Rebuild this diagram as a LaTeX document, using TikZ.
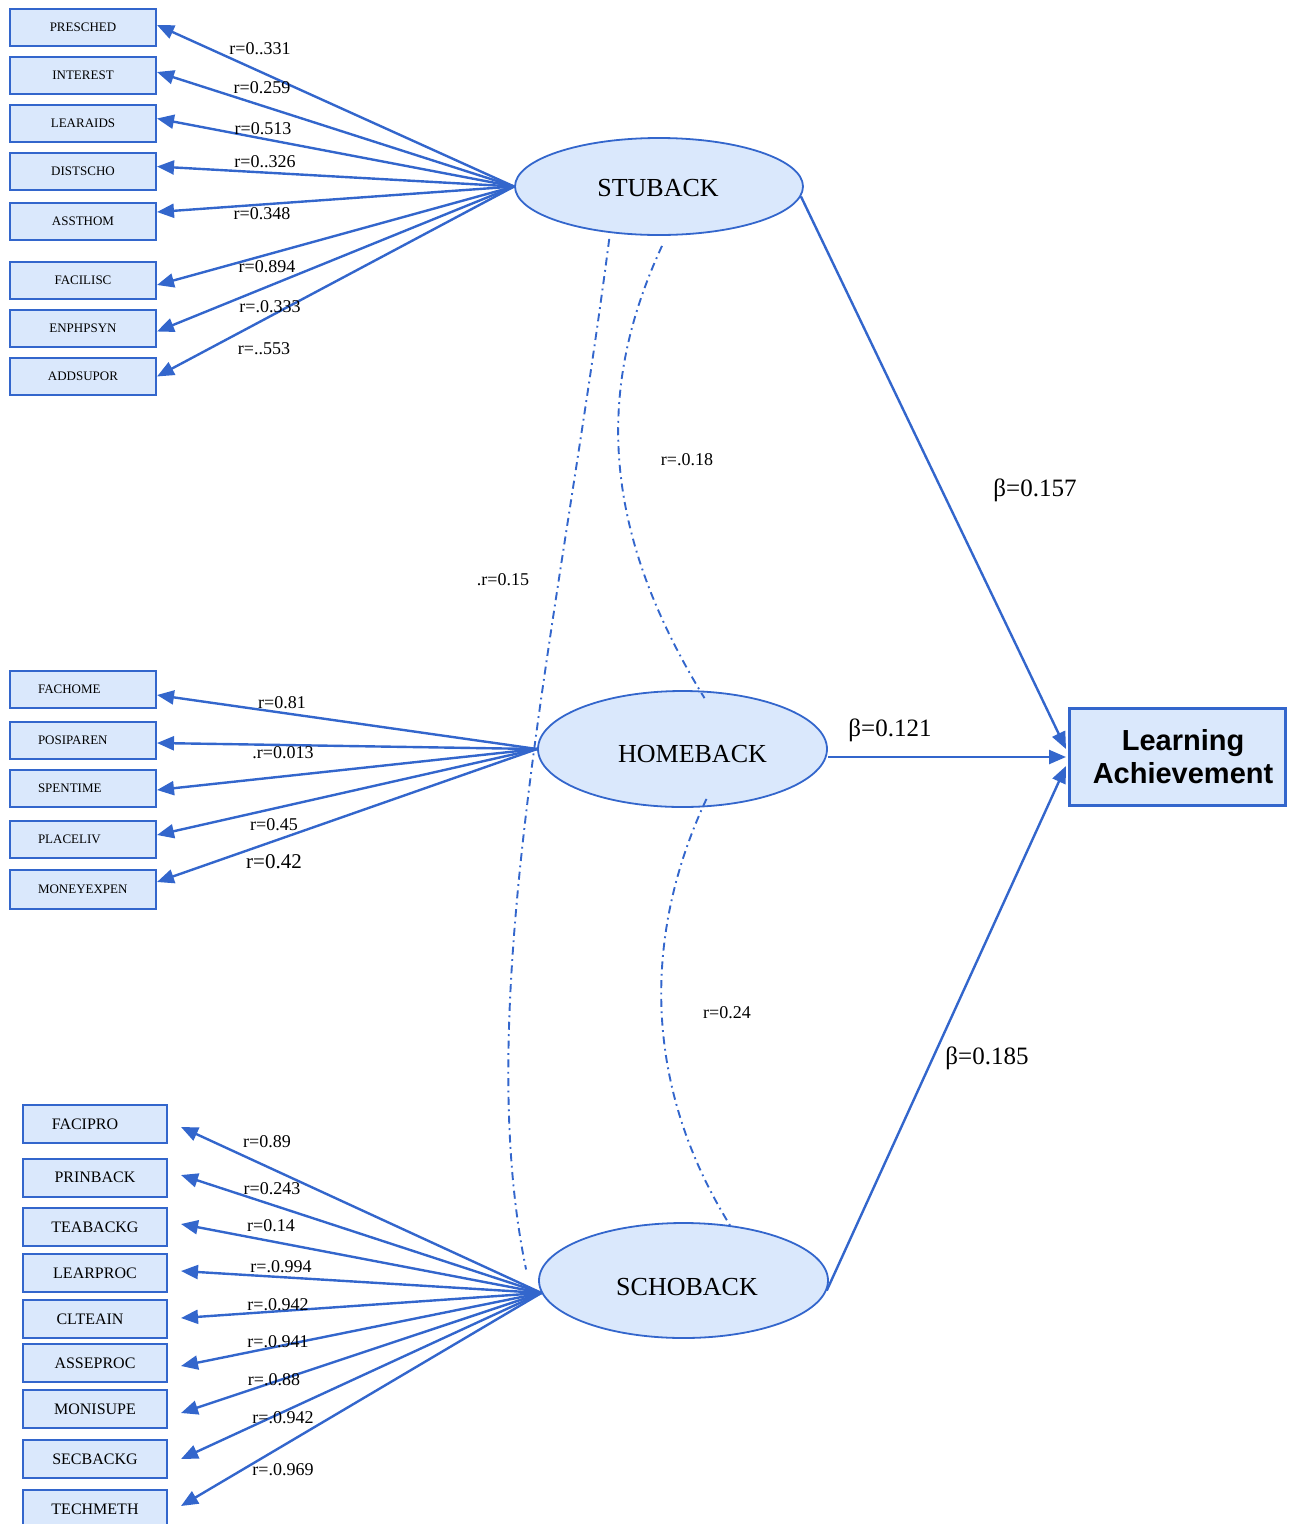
\documentclass[tikz,border=0pt]{standalone}
\usepackage{fontspec}
\setmainfont{Liberation Serif}
\newfontfamily\headfont{Liberation Sans}
\usetikzlibrary{arrows.meta,shapes.geometric}
\definecolor{edgeblue}{RGB}{51,102,204}
\definecolor{boxfill}{RGB}{218,232,252}

\begin{document}
\begin{tikzpicture}[x=1pt,y=-1pt,
  varbox/.style={draw=edgeblue, fill=boxfill, line width=2pt, minimum width=146pt,
    minimum height=37pt, inner sep=0pt, font=\fontsize{13}{15}\selectfont},
  schbox/.style={varbox, minimum width=144pt, minimum height=38pt,
    font=\fontsize{16}{18}\selectfont},
  latent/.style={ellipse, draw=edgeblue, fill=boxfill, line width=1.8pt, inner sep=0pt},
  lvtext/.style={font=\fontsize{26}{30}\selectfont, inner sep=0pt},
  load/.style={draw=edgeblue, line width=2.4pt, -{Triangle[length=17pt,width=14pt]}},
  corr/.style={draw=edgeblue, line width=1.9pt, dash pattern=on 8pt off 4.5pt on 1.8pt off 4.5pt},
  rlab/.style={font=\fontsize{18}{20}\selectfont, inner sep=0pt},
  blab/.style={font=\fontsize{25}{28}\selectfont, inner sep=0pt}
]
\useasboundingbox (0,0) rectangle (1293,1524);

% latent constructs
\node[latent, minimum width=288pt, minimum height=97pt] (stuback) at (659,186.5) {};
\node[latent, minimum width=289pt, minimum height=116pt] (homeback) at (682.5,749) {};
\node[latent, minimum width=289pt, minimum height=115pt] (schoback) at (683.5,1280.5) {};
\node[lvtext] (stubacktxt) at (658,188) {STUBACK};
\node[lvtext] (homebacktxt) at (692.5,754) {HOMEBACK};
\node[lvtext] (schobacktxt) at (687,1287) {SCHOBACK};

% outcome
\node[draw=edgeblue, fill=boxfill, line width=3pt, minimum width=216pt,
  minimum height=97pt, inner sep=0pt] (la) at (1177.5,757) {};
\node[align=center, inner sep=0pt, font=\headfont\bfseries\fontsize{29}{33}\selectfont]
  (latxt) at (1183,757) {Learning\\Achievement};

% student background indicators
\node[varbox] (presched) at (83,27.5) {PRESCHED};
\node[varbox] (interest) at (83,75.5) {INTEREST};
\node[varbox] (learaids) at (83,123.5) {LEARAIDS};
\node[varbox] (distscho) at (83,171.5) {DISTSCHO};
\node[varbox] (assthom) at (83,221) {ASSTHOM};
\node[varbox] (facilisc) at (83,280.5) {FACILISC};
\node[varbox] (enphpsyn) at (83,328.5) {ENPHPSYN};
\node[varbox] (addsupor) at (83,376.5) {ADDSUPOR};

% home background indicators
\node[varbox] (fachome) at (83,689.5) {\makebox[90pt][l]{FACHOME}};
\node[varbox] (posiparen) at (83,740.5) {\makebox[90pt][l]{POSIPAREN}};
\node[varbox] (spentime) at (83,788.5) {\makebox[90pt][l]{SPENTIME}};
\node[varbox] (placeliv) at (83,839.5) {\makebox[90pt][l]{PLACELIV}};
\node[varbox, minimum height=39pt] (moneyexpen) at (83,889.5) {\makebox[90pt][l]{MONEYEXPEN}};

% school background indicators
\node[schbox] (facipro) at (95,1124) {\hspace*{-20pt}FACIPRO};
\node[schbox] (prinback) at (95,1177.5) {PRINBACK};
\node[schbox] (teabackg) at (95,1227) {TEABACKG};
\node[schbox] (learproc) at (95,1273) {LEARPROC};
\node[schbox] (clteain) at (95,1319) {\hspace*{-10pt}CLTEAIN};
\node[schbox] (asseproc) at (95,1363) {ASSEPROC};
\node[schbox] (monisupe) at (95,1409) {MONISUPE};
\node[schbox] (secbackg) at (95,1459) {SECBACKG};
\node[schbox] (techmeth) at (95,1509) {TECHMETH};

% loadings
\foreach \n/\dy in {presched/2.5, interest/3.5, learaids/5, distscho/5, assthom/9,
    facilisc/-4.5, enphpsyn/-3, addsupor/0}
  \draw[load] (stuback.west) -- ([yshift=\dy pt]\n.east);
\foreach \n/\dy in {fachome/-5.5, posiparen/-2.5, spentime/-1.5, placeliv/4.5, moneyexpen/7.5}
  \draw[load] (homeback.west) -- ([yshift=\dy pt]\n.east);
\foreach \n/\dy in {facipro/-3, prinback/2.5, teabackg/3, learproc/2, clteain/1,
    asseproc/-3, monisupe/-4, secbackg/0, techmeth/3}
  \draw[load] (schoback.185) -- ([xshift=13pt,yshift=\dy pt]\n.east);

% structural paths
\draw[load] (stuback.-4) -- ([xshift=-2pt,yshift=8pt]la.west);
\draw[load] (homeback.east |- la.west) -- ([xshift=-2pt]la.west);
\draw[load] (schoback.-4) -- ([xshift=-2pt,yshift=-9pt]la.west);

% correlations between constructs
\draw[corr] ([shift={(0,6)}]stuback.223) .. controls (560,620) and (470,1000) .. ([shift={(-12,-11)}]schoback.west);
\draw[corr] ([shift={(3,10)}]stuback.south) .. controls (600,380) and (595,520) .. ([shift={(22,8)}]homeback.north);
\draw[corr] ([shift={(24,-9)}]homeback.south) .. controls (645,930) and (640,1080) .. (schoback.50);

% loading labels
\node[rlab] (l1) at (260,49) {r=0..331};
\node[rlab] (l2) at (262,88) {r=0.259};
\node[rlab] (l3) at (263,129) {r=0.513};
\node[rlab] (l4) at (265,162) {r=0..326};
\node[rlab] (l5) at (262,214) {r=0.348};
\node[rlab] (l6) at (267,267) {r=0.894};
\node[rlab] (l7) at (270,307) {r=.0.333};
\node[rlab] (l8) at (264,349) {r=..553};

\node[rlab] (h1) at (282,703) {r=0.81};
\node[rlab] (h2) at (283,753) {.r=0.013};
\node[rlab] (h3) at (274,825) {r=0.45};
\node[rlab, font=\fontsize{21}{24}\selectfont] (h4) at (274,862) {r=0.42};

\node[rlab] (s1) at (267,1142) {r=0.89};
\node[rlab] (s2) at (272,1189) {r=0.243};
\node[rlab] (s3) at (271,1226) {r=0.14};
\node[rlab] (s4) at (281,1267) {r=.0.994};
\node[rlab] (s5) at (278,1305) {r=.0.942};
\node[rlab] (s6) at (278,1342) {r=.0.941};
\node[rlab] (s7) at (274,1380) {r=.0.88};
\node[rlab] (s8) at (283,1418) {r=.0.942};
\node[rlab] (s9) at (283,1470) {r=.0.969};

% correlation labels
\node[rlab] (c1) at (687,460) {r=.0.18};
\node[rlab] (c2) at (503,580) {.r=0.15};
\node[rlab] (c3) at (727,1013) {r=0.24};

% path coefficients
\node[blab] (b1) at (1035,490) {β=0.157};
\node[blab] (b2) at (890,730) {β=0.121};
\node[blab] (b3) at (987,1058) {β=0.185};
\end{tikzpicture}
\end{document}
